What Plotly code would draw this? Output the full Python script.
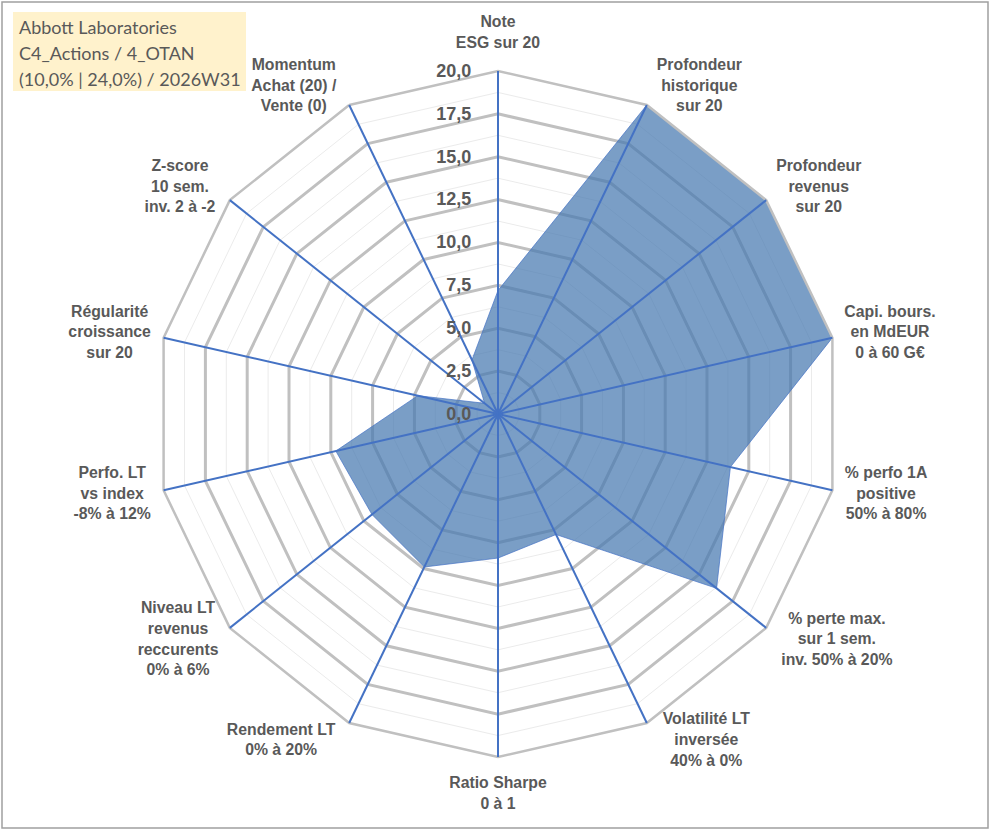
import math
import plotly.graph_objects as go

# radar axes (clockwise from the top)
categories = [
    "Note<br>ESG sur 20",
    "Profondeur<br>historique<br>sur 20",
    "Profondeur<br>revenus<br>sur 20",
    "Capi. bours.<br>en MdEUR<br>0 à 60 G€",
    "% perfo 1A<br>positive<br>50% à 80%",
    "% perte max.<br>sur 1 sem.<br>inv. 50% à 20%",
    "Volatilité LT<br>inversée<br>40% à 0%",
    "Ratio Sharpe<br>0 à 1",
    "Rendement LT<br>0% à 20%",
    "Niveau LT<br>revenus<br>reccurents<br>0% à 6%",
    "Perfo. LT<br>vs index<br>-8% à 12%",
    "Régularité<br>croissance<br>sur 20",
    "Z-score<br>10 sem.<br>inv. 2 à -2",
    "Momentum<br>Achat (20) /<br>Vente (0)",
]
scores = [7.2, 20, 20, 20, 13.9, 16.3, 7.8, 8.4, 9.9, 9.4, 9.7, 4.8, 1.0, 3.5]

title_lines = ["Abbott Laboratories", "C4_Actions / 4_OTAN", "(10,0% | 24,0%) / 2026W31"]

GREY_TXT = "#595959"
W, H = 991, 830
CX, CY, R = 498, 414, 343
R_MAX = 20
R_LAB = 414                 # pixel radius of the label carrier subplot
LAB_FONT = 15.8
LINE_H = LAB_FONT * 1.3
GAP_H, GAP_V = 11, 17


def domain(radius_px):
    return dict(x=[(CX - radius_px) / W, (CX + radius_px) / W],
                y=[1 - (CY + radius_px) / H, 1 - (CY - radius_px) / H])


def text_width(s):
    # crude width estimate for bold sans text
    w = 0
    for ch in s:
        if ch in "il.,;:'|!() /-tfjrI":
            w += 0.32
        elif ch in "mwMW%G€":
            w += 0.88
        elif ch.isupper():
            w += 0.7
        else:
            w += 0.6
    return w * LAB_FONT


def label_spot(k, label):
    # Excel-style placement: label sits beside the outer vertex
    a = 2 * math.pi * k / len(categories)
    lines = label.split("<br>")
    hw = max(text_width(s) for s in lines) / 2
    hh = len(lines) * LINE_H / 2
    vx, vy = R * math.sin(a), -R * math.cos(a)
    if abs(math.sin(a)) < 1e-6:
        x, y = vx, vy + math.copysign(GAP_V + hh, vy)
    else:
        x, y = vx + math.copysign(GAP_H + hw, vx), vy - 20 * math.cos(a)
    rr = math.hypot(x, y) * R_MAX / R
    th = math.degrees(math.atan2(x, -y)) % 360
    return rr, th


theta = categories + categories[:1]
r = scores + scores[:1]
spots = [label_spot(k, c) for k, c in enumerate(categories)]

fig = go.Figure()

# main data polygon
fig.add_trace(go.Scatterpolar(
    r=r, theta=theta, subplot="polar2", mode="lines", fill="toself",
    fillcolor="rgba(70,120,176,0.72)", line=dict(color="rgba(68,114,196,0.7)", width=1),
    hoverinfo="skip", showlegend=False,
))
# category names beside the outer vertices
fig.add_trace(go.Scatterpolar(
    r=[s[0] for s in spots], theta=[s[1] for s in spots], text=categories, subplot="polar4",
    mode="text", textposition="middle center",
    textfont=dict(family="Liberation Sans, Arial", size=LAB_FONT, color=GREY_TXT, weight="bold"),
    hoverinfo="skip", showlegend=False,
))
# invisible copies so the other subplots get the same categories
for sp in ["polar", "polar3"]:
    fig.add_trace(go.Scatterpolar(
        r=[0] * len(theta), theta=theta, subplot=sp, mode="lines",
        line=dict(width=0), hoverinfo="skip", showlegend=False,
    ))

ang_common = dict(direction="clockwise", rotation=90, type="category")
hidden_ang = dict(showgrid=False, showline=False, showticklabels=False, ticks="", **ang_common)

fig.update_layout(
    width=W, height=H,
    margin=dict(l=0, r=0, t=0, b=0),
    paper_bgcolor="white",
    separators=",.",
    # minor rings
    polar=dict(
        domain=domain(R), gridshape="linear", bgcolor="white",
        radialaxis=dict(range=[0, R_MAX], dtick=1.25, showgrid=True, gridcolor="#EBEBEB",
                        gridwidth=1, showline=False, showticklabels=False, ticks=""),
        angularaxis=hidden_ang,
    ),
    # major rings and data
    polar2=dict(
        domain=domain(R), gridshape="linear", bgcolor="rgba(0,0,0,0)",
        radialaxis=dict(range=[0, R_MAX], dtick=2.5, showgrid=True, gridcolor="#C0C0C0",
                        gridwidth=2.5, showline=False, showticklabels=False, ticks=""),
        angularaxis=dict(showgrid=False, showline=True, linecolor="#C0C0C0", linewidth=2.5,
                         showticklabels=False, ticks="", **ang_common),
    ),
    # blue spokes and radial tick labels on top
    polar3=dict(
        domain=domain(R), gridshape="linear", bgcolor="rgba(0,0,0,0)",
        radialaxis=dict(range=[0, R_MAX], dtick=2.5, showgrid=False, showline=False,
                        ticks="outside", ticklen=20, tickcolor="rgba(0,0,0,0)",
                        angle=90, side="counterclockwise", tickangle=90, tickformat=".1f",
                        tickfont=dict(family="Liberation Sans, Arial", size=18,
                                      color=GREY_TXT, weight="bold")),
        angularaxis=dict(showgrid=True, gridcolor="#4472C4", gridwidth=1.8, showline=False,
                         showticklabels=False, ticks="", **ang_common),
    ),
    # label carrier (same centre and scale, larger radius)
    polar4=dict(
        domain=domain(R_LAB), bgcolor="rgba(0,0,0,0)",
        radialaxis=dict(range=[0, R_MAX * R_LAB / R], visible=False),
        angularaxis=dict(direction="clockwise", rotation=90, type="linear", thetaunit="degrees",
                         showgrid=False, showline=False, showticklabels=False, ticks=""),
    ),
    shapes=[
        dict(type="rect", xref="paper", yref="paper",
             x0=2 / W, x1=988 / W, y0=2 / H, y1=828 / H,
             line=dict(color="#A0A0A0", width=1.5)),
        dict(type="rect", xref="paper", yref="paper",
             x0=13 / W, x1=246 / W, y0=1 - 91 / H, y1=1 - 12 / H,
             fillcolor="#FFF2CC", line=dict(width=0), layer="below"),
    ],
    annotations=[dict(
        text=line, xref="paper", yref="paper",
        x=17 / W, y=1 - (27 + 26 * i) / H, xanchor="left", yanchor="middle", align="left",
        showarrow=False, font=dict(family="Lato, Open Sans", size=18, color=GREY_TXT),
    ) for i, line in enumerate(title_lines)],
)

fig.write_html("out.html", config={"displayModeBar": False},
               post_script="document.body.style.margin='0';")
